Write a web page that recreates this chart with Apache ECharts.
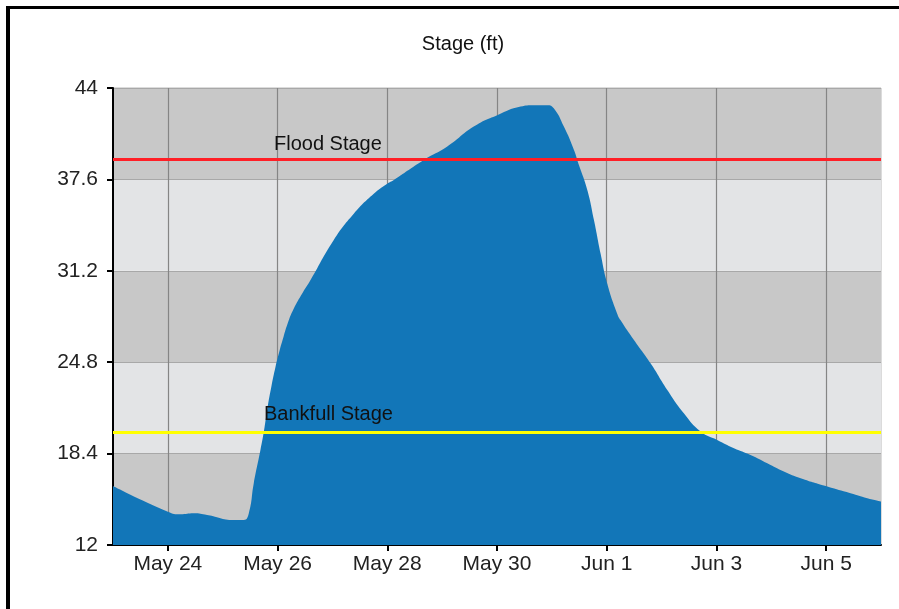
<!DOCTYPE html>
<html>
<head>
<meta charset="utf-8">
<script src="https://cdn.jsdelivr.net/npm/echarts@6/dist/echarts.min.js"></script>
<style>
html,body{margin:0;padding:0;background:#fff;}
#chart{width:899px;height:609px;}
</style>
</head>
<body>
<div id="chart"></div>
<script>
// ---- data ----
const times = [
 '2019-05-23T00:00Z','2019-05-24T00:00Z','2019-05-24T05:30Z','2019-05-24T11:20Z','2019-05-24T17:10Z',
 '2019-05-25T04:50Z','2019-05-25T09:15Z','2019-05-25T11:25Z','2019-05-25T13:35Z','2019-05-25T16:30Z',
 '2019-05-25T18:00Z','2019-05-25T19:35Z','2019-05-25T21:20Z','2019-05-25T23:05Z','2019-05-26T00:50Z',
 '2019-05-26T02:35Z','2019-05-26T04:20Z','2019-05-26T07:00Z','2019-05-26T10:55Z','2019-05-26T14:25Z',
 '2019-05-27T00:35Z','2019-05-27T09:20Z','2019-05-27T18:05Z','2019-05-28T00:00Z','2019-05-28T02:50Z',
 '2019-05-28T16:00Z','2019-05-29T02:15Z','2019-05-29T13:50Z','2019-05-30T00:05Z','2019-05-30T10:20Z',
 '2019-05-30T16:05Z','2019-05-30T22:00Z','2019-05-31T00:50Z','2019-05-31T05:15Z','2019-05-31T09:35Z',
 '2019-05-31T11:50Z','2019-05-31T15:30Z','2019-05-31T18:25Z','2019-05-31T21:20Z','2019-06-01T00:15Z',
 '2019-06-01T04:35Z','2019-06-01T06:00Z','2019-06-01T11:55Z','2019-06-01T19:10Z','2019-06-02T02:30Z',
 '2019-06-02T09:50Z','2019-06-02T17:05Z','2019-06-03T00:20Z','2019-06-03T07:40Z','2019-06-03T14:55Z',
 '2019-06-03T22:15Z','2019-06-04T05:30Z','2019-06-04T12:50Z','2019-06-05T00:30Z','2019-06-05T10:40Z',
 '2019-06-05T18:00Z','2019-06-06T00:00Z'
];
const stage = [
 16.13,14.33,14.15,14.22,14.10,
 13.75,13.75,14.22,16.32,18.65,
 19.94,21.59,23.13,24.46,25.58,
 26.56,27.47,28.52,29.64,30.55,
 33.36,35.20,36.60,37.30,37.56,
 38.96,39.90,41.30,42.10,42.70,
 42.80,42.80,42.58,41.30,39.70,
 38.60,36.86,34.76,32.40,30.30,
 28.20,27.75,26.35,24.72,22.85,
 21.20,19.94,19.35,18.77,18.30,
 17.72,17.14,16.67,16.09,15.62,
 15.27,15.04
];
const floodStage = 39.0;
const bankfullStage = 19.9;
const xTickDates = ['2019-05-24T00:00Z','2019-05-26T00:00Z','2019-05-28T00:00Z','2019-05-30T00:00Z','2019-06-01T00:00Z','2019-06-03T00:00Z','2019-06-05T00:00Z'];
const xTickLabels = ['May 24','May 26','May 28','May 30','Jun 1','Jun 3','Jun 5'];
const xStart = '2019-05-23T00:00Z';
const xEnd = '2019-06-06T00:00Z';
const yTicks = [12, 18.4, 24.8, 31.2, 37.6, 44];
const titleText = 'Stage (ft)';

// ---- build ----
const base = Date.parse('2019-05-24T00:00Z');
const toDay = t => (Date.parse(t) - base) / 86400000;
const seriesData = times.map((t, i) => [toDay(t), stage[i]]);
const tickDays = xTickDates.map(toDay);

const FONT = 'Liberation Sans';
const chart = echarts.init(document.getElementById('chart'), null, {renderer: 'canvas'});
chart.setOption({
  animation: false,
  backgroundColor: '#ffffff',
  title: {
    text: titleText, left: 458, top: 29, textAlign: 'center',
    textStyle: {fontFamily: FONT, fontSize: 20, fontWeight: 'normal', color: '#111'}
  },
  grid: {left: 113, top: 88, right: 18, bottom: 64, show: true, borderColor: '#b8b8b8', borderWidth: 1, backgroundColor: 'transparent'},
  xAxis: {
    type: 'value', min: toDay(xStart), max: toDay(xEnd),
    axisLine: {show: true, onZero: false, lineStyle: {color: '#000', width: 2}},
    axisTick: {show: true, length: 6, lineStyle: {color: '#000', width: 2}, customValues: tickDays},
    axisLabel: {
      customValues: tickDays, margin: 9,
      fontFamily: FONT, fontSize: 21, color: '#222',
      formatter: v => { const i = tickDays.findIndex(d => Math.abs(d - v) < 1e-6); return i >= 0 ? xTickLabels[i] : ''; }
    },
    splitLine: {show: true, lineStyle: {color: '#858585', width: 1.2}}
  },
  yAxis: {
    type: 'value', min: 12, max: 44, interval: 6.4,
    axisLine: {show: true, onZero: false, lineStyle: {color: '#000', width: 2}},
    axisTick: {show: true, length: 6, lineStyle: {color: '#000', width: 2}},
    axisLabel: {margin: 15, fontFamily: FONT, fontSize: 21, color: '#222',
      formatter: v => { const m = yTicks.find(t => Math.abs(t - v) < 1e-6); return m !== undefined ? String(m) : ''; }},
    splitLine: {show: true, lineStyle: {color: '#a8a8a8', width: 1}},
    splitArea: {show: true, areaStyle: {color: ['#c8c8c8', '#e3e4e6']}}
  },
  series: [{
    type: 'line',
    data: seriesData,
    showSymbol: false,
    smooth: 0.5,
    lineStyle: {width: 0},
    areaStyle: {color: '#1276b8', opacity: 1, origin: 'start'},
    z: 2,
    markLine: {
      silent: true, symbol: 'none',
      data: [
        {yAxis: floodStage, lineStyle: {color: '#ff1f26', width: 3, type: 'solid'},
         label: {show: true, formatter: 'Flood Stage', position: 'insideStartTop', distance: [161, 5],
                 fontFamily: FONT, fontSize: 20, color: '#111'}},
        {yAxis: bankfullStage, lineStyle: {color: '#ffff00', width: 3, type: 'solid'},
         label: {show: true, formatter: 'Bankfull Stage', position: 'insideStartTop', distance: [151, 8],
                 fontFamily: FONT, fontSize: 20, color: '#111'}}
      ]
    }
  }],
  graphic: [
    {type: 'rect', shape: {x: 6, y: 6, width: 893, height: 3}, style: {fill: '#000'}},
    {type: 'rect', shape: {x: 6, y: 6, width: 4, height: 603}, style: {fill: '#000'}}
  ]
});
</script>
</body>
</html>
